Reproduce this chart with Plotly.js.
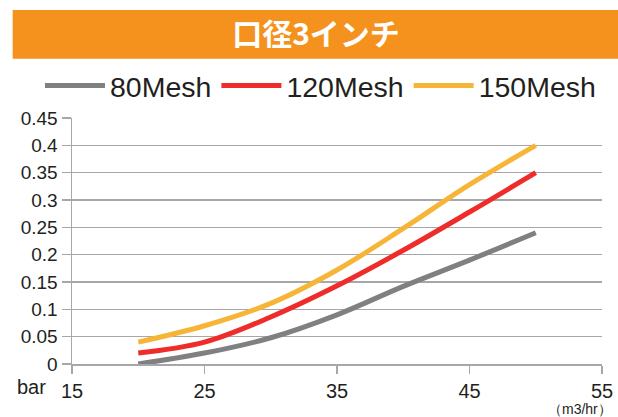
<!DOCTYPE html>
<html>
<head>
<meta charset="utf-8">
<script src="https://cdn.plot.ly/plotly-3.0.1.min.js"></script>
<style>html,body{margin:0;padding:0;background:#fff;}#chart{width:618px;height:417px;}</style>
</head>
<body>
<div id="chart"></div>
<script>
const flow = [20, 25, 30, 35, 40, 45, 50];
const mesh80 = [0, 0.02, 0.048, 0.09, 0.142, 0.19, 0.24];
const mesh120 = [0.02, 0.04, 0.086, 0.143, 0.208, 0.278, 0.35];
const mesh150 = [0.04, 0.07, 0.111, 0.172, 0.248, 0.328, 0.40];
const seriesNames = ['80Mesh', '120Mesh', '150Mesh'];
const xTicks = [15, 25, 35, 45, 55];
const yTicks = [0, 0.05, 0.1, 0.15, 0.2, 0.25, 0.3, 0.35, 0.4, 0.45];
const yTickLabels = ['0', '0.05', '0.1', '0.15', '0.2', '0.25', '0.3', '0.35', '0.4', '0.45'];
const titleText = '口径3インチ';
const yUnit = 'bar';
const xUnit = '（m3/hr）';

const colors = ['#808083', '#ee2d2b', '#f7b538'];
const values = [mesh80, mesh120, mesh150];
const font = '"Liberation Sans", Arial, Helvetica, sans-serif';
const grid = '#a7a7aa';

const traces = values.map((v, i) => ({
  x: flow, y: v, name: seriesNames[i], type: 'scatter', mode: 'lines',
  line: {color: colors[i], width: 5, shape: 'spline', smoothing: 1}
}));

const L = 72, R = 16.3, T = 118, B = 53;
const W = 618 - L - R, H = 417 - T - B;
const px = x => (x - L) / W;
const py = y => (417 - B - y) / H;

const layout = {
  width: 618, height: 417,
  margin: {l: L, r: R, t: T, b: B, pad: 0},
  paper_bgcolor: '#fff', plot_bgcolor: '#fff',
  font: {family: font, color: '#231f20', size: 19},
  showlegend: true,
  legend: {orientation: 'h', x: px(40), xanchor: 'left', y: py(86), yanchor: 'middle',
           font: {size: 28.5, family: font, color: '#231f20'}, itemwidth: 60, tracegroupgap: 0,
           bgcolor: 'rgba(0,0,0,0)'},
  title: {text: '<b>' + titleText + '</b>', font: {family: '"Noto Sans CJK JP", sans-serif', size: 30, color: '#fff'},
          x: 316 / 618, xanchor: 'center', xref: 'container', y: 1 - 34 / 417, yref: 'container', yanchor: 'middle'},
  xaxis: {range: [15, 55], tickvals: xTicks, ticktext: xTicks.map(String), showgrid: false, zeroline: false,
          showline: true, linecolor: grid, linewidth: 1.5, ticks: 'outside', ticklen: 8, tickcolor: grid, tickwidth: 1.5,
          tickfont: {size: 20}, fixedrange: true},
  yaxis: {range: [0, 0.45], tickvals: yTicks, ticktext: yTickLabels, showgrid: true, gridcolor: grid, gridwidth: 1.5,
          zeroline: false, showline: true, linecolor: grid, linewidth: 1.5, ticks: 'outside', ticklen: 9,
          tickcolor: grid, tickwidth: 1.5, tickfont: {size: 19}, fixedrange: true},
  shapes: [{type: 'rect', xref: 'paper', yref: 'paper', x0: px(12.7), x1: px(620), y0: py(58.7), y1: py(10),
            fillcolor: '#f5921e', line: {width: 0}, layer: 'below'}],
  annotations: [
    {text: yUnit, xref: 'paper', yref: 'paper', x: px(15), xanchor: 'left', y: py(387), yanchor: 'middle',
     showarrow: false, font: {size: 20}},
    {text: xUnit, xref: 'paper', yref: 'paper', x: px(614), xanchor: 'right', y: py(409), yanchor: 'middle',
     showarrow: false, font: {size: 14, family: font}}
  ]
};

Plotly.newPlot('chart', traces, layout, {displayModeBar: false, staticPlot: true});
</script>
</body>
</html>
